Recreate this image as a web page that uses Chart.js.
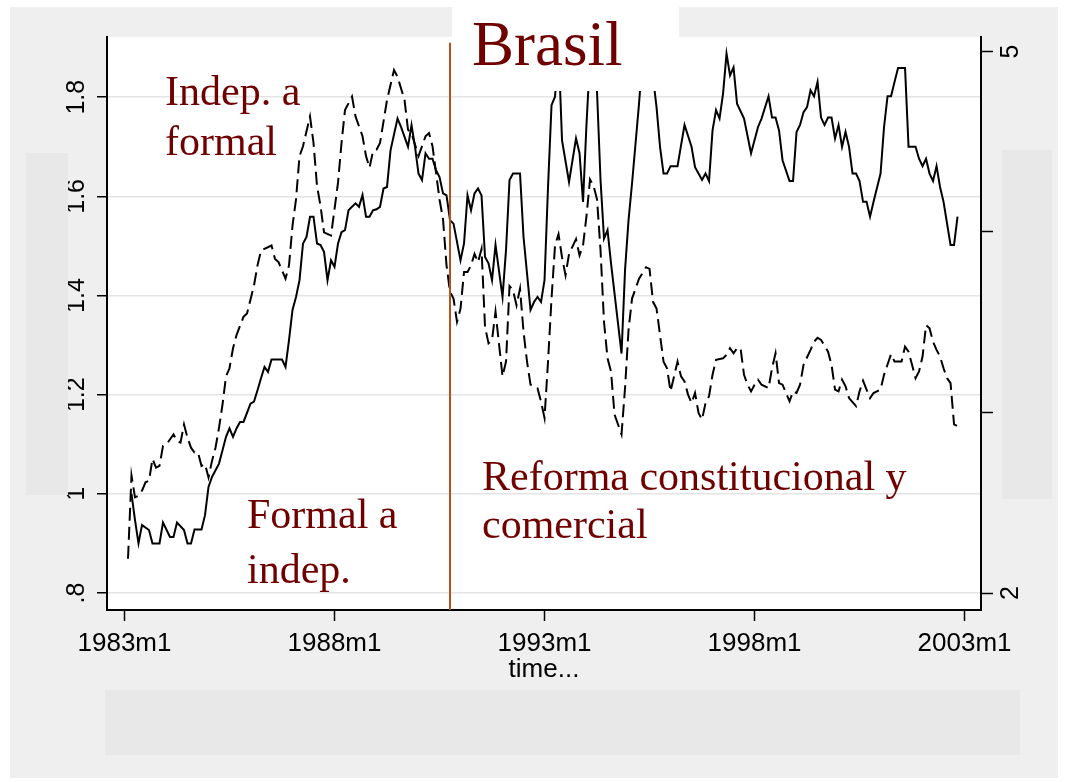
<!DOCTYPE html>
<html>
<head>
<meta charset="utf-8">
<script src="https://cdn.jsdelivr.net/npm/chart.js@4/dist/chart.umd.min.js"></script>
<style>
  html, body { margin: 0; padding: 0; background: #fff; }
</style>
</head>
<body>
<canvas id="brasil-chart" width="1066" height="782"></canvas>
<script>
// months counted from 1983m1 = 0
const solidMonths = [2,3,4,5,7,8,10,11,13,14,15,17,18,19,20,22,23,24,25,27,28,29,30,31,32,33,34,36,37,38,39,40,41,42,45,46,47,48,49,50,51,52,53,54,55,56,57,58,59,60,61,62,63,64,66,67,68,69,70,71,72,73,74,75,76,78,79,80,81,82,83,84,85,86,87,88,89,90,91,92,93,94,96,97,98,99,100,101,102,103,104,105,106,108,109,110,111,113,114,116,117,118,119,120,121,122,123,124,125,127,129,130,131,132,133,134,135,136,137,138,139,142,143,144,145,147,148,150,151,152,153,154,155,156,158,159,160,162,163,164,165,166,167,168,169,170,171,172,173,174,175,177,179,181,182,184,185,186,187,188,190,191,192,193,194,195,196,197,198,199,200,201,202,203,204,205,206,207,208,209,210,211,212,213,214,216,217,218,219,220,221,223,224,226,227,228,229,230,231,232,233,234,236,237,238];
const solidValues = [1.00,0.947,0.900,0.937,0.927,0.900,0.900,0.942,0.913,0.913,0.942,0.927,0.900,0.900,0.928,0.928,0.957,1.014,1.034,1.061,1.088,1.115,1.132,1.115,1.132,1.145,1.145,1.182,1.186,1.209,1.233,1.256,1.246,1.271,1.271,1.256,1.310,1.371,1.397,1.431,1.505,1.518,1.559,1.559,1.505,1.502,1.488,1.431,1.471,1.458,1.505,1.528,1.532,1.572,1.586,1.579,1.603,1.559,1.559,1.572,1.574,1.579,1.616,1.619,1.693,1.757,1.740,1.720,1.700,1.744,1.700,1.646,1.633,1.687,1.676,1.676,1.653,1.639,1.606,1.602,1.552,1.545,1.471,1.505,1.602,1.572,1.606,1.616,1.602,1.478,1.465,1.431,1.502,1.397,1.492,1.633,1.646,1.646,1.518,1.371,1.387,1.397,1.387,1.431,1.619,1.784,1.801,1.900,1.713,1.629,1.717,1.687,1.589,1.747,1.880,1.900,1.811,1.633,1.515,1.532,1.465,1.283,1.451,1.552,1.626,1.787,1.880,1.900,1.840,1.780,1.700,1.646,1.646,1.661,1.661,1.703,1.744,1.700,1.659,1.646,1.633,1.646,1.631,1.733,1.774,1.757,1.807,1.888,1.844,1.860,1.787,1.757,1.687,1.740,1.757,1.802,1.759,1.759,1.733,1.673,1.631,1.631,1.730,1.744,1.770,1.780,1.814,1.802,1.831,1.759,1.744,1.759,1.759,1.717,1.744,1.700,1.730,1.700,1.646,1.646,1.631,1.589,1.589,1.559,1.589,1.646,1.740,1.802,1.802,1.831,1.859,1.859,1.700,1.700,1.676,1.661,1.676,1.646,1.631,1.661,1.619,1.589,1.502,1.502,1.559];
const dashedMonths = [1,2,3,4,5,6,7,8,9,10,11,12,14,15,16,17,18,19,20,21,22,23,24,25,26,27,28,29,30,31,32,34,35,37,38,39,42,43,44,46,47,48,49,50,51,53,54,55,56,57,59,60,61,62,63,65,66,68,69,70,71,72,73,75,77,78,80,81,82,84,86,87,88,89,90,91,92,93,94,95,96,97,98,99,100,101,102,103,104,105,106,108,109,110,111,112,113,114,115,116,118,119,120,121,122,123,124,125,126,127,129,130,131,132,133,134,135,136,137,138,139,140,142,143,144,145,147,149,150,151,152,154,155,156,158,159,160,161,162,163,164,165,166,167,168,169,171,172,173,174,175,176,177,178,179,180,181,182,184,185,186,187,188,189,190,191,192,193,194,196,197,198,199,201,202,203,204,205,206,207,209,210,211,212,213,214,216,217,219,220,222,223,224,225,226,227,228,229,230,231,232,233,234,235,236,237,238];
const dashedValues = [2.19,2.65,2.530,2.539,2.567,2.613,2.622,2.743,2.695,2.704,2.815,2.824,2.879,2.842,2.833,2.934,2.860,2.805,2.778,2.778,2.704,2.714,2.640,2.732,2.805,2.915,3.044,3.200,3.245,3.356,3.429,3.530,3.548,3.704,3.815,3.897,3.925,3.851,3.833,3.741,3.815,4.035,4.181,4.420,4.475,4.640,4.493,4.255,4.145,3.998,3.980,4.126,4.273,4.493,4.676,4.750,4.640,4.530,4.420,4.356,4.447,4.456,4.493,4.731,4.897,4.860,4.731,4.566,4.548,4.420,4.530,4.548,4.475,4.328,4.18,4.071,3.815,3.668,3.631,3.502,3.576,3.778,3.778,3.815,3.878,3.833,3.906,3.475,3.383,3.402,3.558,3.200,3.282,3.70,3.677,3.594,3.686,3.447,3.282,3.154,3.135,3.06,2.970,3.282,3.631,3.925,3.988,3.86,3.760,3.878,3.961,3.870,3.925,4.090,4.291,4.255,4.181,3.90,3.50,3.30,3.227,2.989,2.879,3.135,3.457,3.631,3.741,3.805,3.796,3.613,3.576,3.282,3.245,3.117,3.282,3.200,3.172,3.099,3.053,3.108,2.998,2.961,3.053,3.090,3.209,3.292,3.300,3.319,3.356,3.328,3.356,3.356,3.209,3.154,3.117,3.154,3.182,3.154,3.135,3.245,3.328,3.163,3.154,3.108,3.062,3.117,3.108,3.154,3.264,3.347,3.392,3.414,3.402,3.337,3.264,3.127,3.117,3.182,3.145,3.080,3.035,3.117,3.176,3.127,3.080,3.108,3.127,3.209,3.323,3.282,3.282,3.365,3.337,3.264,3.190,3.227,3.310,3.484,3.466,3.392,3.347,3.310,3.245,3.190,3.163,2.934,2.925];

const tickMonths = [0, 60, 120, 180, 240];
const tickLabels = ['1983m1', '1988m1', '1993m1', '1998m1', '2003m1'];
const leftTicks = [0.8, 1, 1.2, 1.4, 1.6, 1.8];
const leftTickLabels = ['.8', '1', '1.2', '1.4', '1.6', '1.8'];
const rightTicks = [2, 3, 4, 5];
const rightTickLabels = ['2', '', '', '5'];
const reformMonth = 93; // 1990m10

const maroon = '#700000';

const decor = {
    id: 'decor',
    beforeDraw(chart) {
        const ctx = chart.ctx;
        const a = chart.chartArea;
        ctx.save();
        ctx.fillStyle = '#ffffff';
        ctx.fillRect(0, 0, chart.width, chart.height);
        ctx.fillStyle = '#efefef';
        ctx.fillRect(10, 7, 1048, 771);
        ctx.fillStyle = '#ffffff';
        ctx.fillRect(a.left, a.top, a.right - a.left, a.bottom - a.top);
        ctx.restore();
    },
    afterDatasetsDraw(chart) {
        const ctx = chart.ctx;
        const a = chart.chartArea;
        const xs = chart.scales.x;
        const ys = chart.scales.y;
        ctx.save();
        // reform marker
        const xr = xs.getPixelForValue(reformMonth);
        ctx.strokeStyle = '#b0521f';
        ctx.lineWidth = 2;
        ctx.beginPath();
        ctx.moveTo(xr, ys.getPixelForValue(1.91));
        ctx.lineTo(xr, a.bottom);
        ctx.stroke();

        // title box
        ctx.fillStyle = '#ffffff';
        ctx.fillRect(452, 7, 227, 84);
        ctx.fillStyle = maroon;
        ctx.textBaseline = 'alphabetic';
        ctx.textAlign = 'left';
        ctx.font = '63px "Liberation Serif"';
        ctx.fillText('Brasil', 472, 65);

        ctx.font = '42px "Liberation Serif"';
        ctx.fillText('Indep. a', 165, 105);
        ctx.fillText('formal', 165, 155);
        ctx.fillText('Formal a', 247, 528);
        ctx.fillText('indep.', 247, 583);
        ctx.fillText('Reforma constitucional y', 482, 490);
        ctx.fillText('comercial', 482, 538);
        ctx.restore();
    },
    afterDraw(chart) {
        const ctx = chart.ctx;
        ctx.save();
        ctx.fillStyle = '#e8e8e8';
        ctx.fillRect(26, 153, 42, 342);
        ctx.fillRect(1002, 150, 50, 349);
        ctx.fillRect(105, 690, 915, 65);
        ctx.restore();
    }
};

const ctx = document.getElementById('brasil-chart').getContext('2d');
const chart = new Chart(ctx, {
    type: 'line',
    data: {
        datasets: [
            {
                label: 'solid',
                data: solidMonths.map((m, i) => ({ x: m, y: solidValues[i] })),
                yAxisID: 'y',
                borderColor: '#000000',
                borderWidth: 2,
                pointRadius: 0,
                fill: false,
                tension: 0
            },
            {
                label: 'dashed',
                data: dashedMonths.map((m, i) => ({ x: m, y: dashedValues[i] })),
                yAxisID: 'y1',
                borderColor: '#000000',
                borderWidth: 2,
                borderDash: [13, 6],
                pointRadius: 0,
                fill: false,
                tension: 0
            }
        ]
    },
    options: {
        responsive: false,
        animation: false,
        devicePixelRatio: 1,
        layout: { padding: { top: 37, left: 0, right: 0, bottom: 0 } },
        plugins: {
            legend: { display: false },
            title: { display: false },
            tooltip: { enabled: false }
        },
        scales: {
            x: {
                type: 'linear',
                min: -5,
                max: 244.7,
                afterBuildTicks: s => { s.ticks = tickMonths.map(v => ({ value: v })); },
                afterFit: s => { s.height = 172; },
                ticks: {
                    autoSkip: false,
                    maxRotation: 0,
                    padding: 7,
                    color: '#000',
                    font: { family: 'Liberation Sans', size: 26 },
                    callback: v => tickLabels[tickMonths.indexOf(v)]
                },
                grid: { drawOnChartArea: false, tickLength: 11, tickColor: '#000', tickWidth: 1.5 },
                border: { color: '#000', width: 2 },
                title: {
                    display: true,
                    text: 'time...',
                    color: '#000',
                    font: { family: 'Liberation Sans', size: 26 },
                    padding: { top: 0, bottom: 97 }
                }
            },
            y: {
                position: 'left',
                min: 0.7657,
                max: 1.9215,
                afterBuildTicks: s => { s.ticks = leftTicks.map(v => ({ value: v })); },
                afterFit: s => { s.width = 107; },
                ticks: {
                    autoSkip: false,
                    minRotation: 90,
                    maxRotation: 90,
                    crossAlign: 'center',
                    padding: 3,
                    color: '#000',
                    font: { family: 'Liberation Sans', size: 25 },
                    callback: v => leftTickLabels[leftTicks.indexOf(v)]
                },
                grid: { color: '#e4e4e4', lineWidth: 1.5, tickLength: 10, tickColor: '#000', tickWidth: 1.5 },
                border: { color: '#000', width: 2 }
            },
            y1: {
                position: 'right',
                min: 1.906,
                max: 5.08,
                afterBuildTicks: s => { s.ticks = rightTicks.map(v => ({ value: v })); },
                afterFit: s => { s.width = 85; },
                ticks: {
                    autoSkip: false,
                    minRotation: 90,
                    maxRotation: 90,
                    crossAlign: 'center',
                    padding: 11.5,
                    color: '#000',
                    font: { family: 'Liberation Sans', size: 25 },
                    callback: v => rightTickLabels[rightTicks.indexOf(v)]
                },
                grid: { drawOnChartArea: false, tickLength: 12, tickColor: '#000', tickWidth: 1.5 },
                border: { color: '#000', width: 2 }
            }
        }
    },
    plugins: [decor]
});
</script>
</body>
</html>
